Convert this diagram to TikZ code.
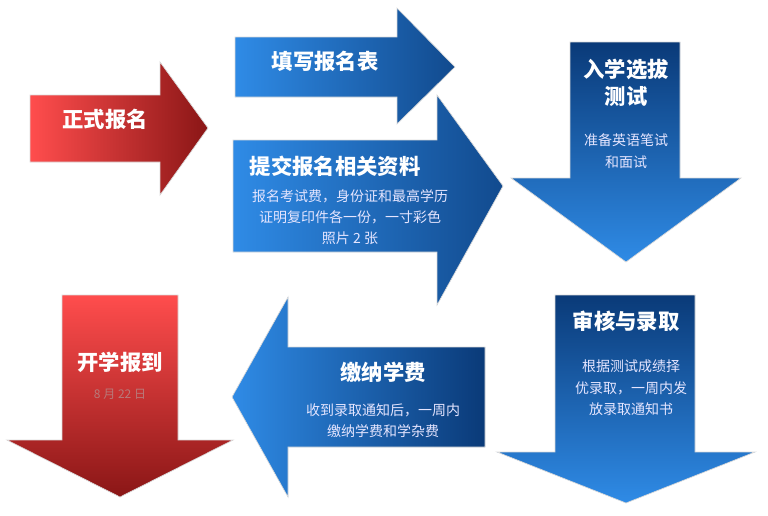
\documentclass[tikz,border=0pt]{standalone}
\usepackage{fontspec}
\setmainfont{Noto Sans CJK SC}
\begin{document}
\begin{tikzpicture}[x=0.75pt,y=-0.75pt,
  ttl/.style={text=white,font=\bfseries\fontsize{16}{20}\selectfont,align=center},
  sml/.style={text=blue!10!white,font=\fontsize{10.5}{16}\selectfont,align=center},
  arr/.style={draw=white!70!gray,line width=0.5pt}]
\useasboundingbox (0,0) rectangle (768,515);
\definecolor{bl}{HTML}{2F8BE6}\definecolor{bd}{HTML}{0A3A78}
\definecolor{rl}{HTML}{FF4D4D}\definecolor{rd}{HTML}{8A1616}
% 1 red right
\path[arr,left color=rl,right color=rd] (30,95)--(160,95)--(160,62)--(208,128)--(160,195)--(160,162)--(30,162)--cycle;
\node[ttl] (a) at (105,119) {正式报名};
% 2
\path[arr,left color=bl,right color=bd!80!bl] (235,37)--(397,37)--(397,8)--(455,67)--(397,124)--(397,97)--(235,97)--cycle;
\node[ttl] (b) at (325,61) {填写报名表};
% 3
\path[arr,left color=bl,right color=bd!80!bl] (233,140)--(437,140)--(437,95)--(503,186)--(437,305)--(437,252)--(233,252)--cycle;
\node[ttl] (c) at (335,166) {提交报名相关资料};
\node[sml] (c2) at (350,217) {报名考试费，身份证和最高学历\\证明复印件各一份，一寸彩色\\照片 2 张};
% 4 down
\path[arr,top color=bd,bottom color=bl] (570,42)--(680,42)--(680,178)--(741,178)--(626,262)--(511,178)--(570,178)--cycle;
\node[ttl] (d) at (626,83) {入学选拔\\测试};
\node[sml] (d2) at (626,151) {准备英语笔试\\和面试};
% 5 down
\path[arr,top color=bd,bottom color=bl] (555,295)--(695,295)--(695,452)--(755,452)--(626,503)--(497,452)--(555,452)--cycle;
\node[ttl] (e) at (626,321) {审核与录取};
\node[sml] (e2) at (631,388) {根据测试成绩择\\优录取，一周内发\\放录取通知书};
% 6 left
\path[arr,left color=bl,right color=bd] (485,347)--(288,347)--(288,297)--(232,397)--(288,497)--(288,447)--(485,447)--cycle;
\node[ttl] (f) at (383,372) {缴纳学费};
\node[sml] (f2) at (383,421) {收到录取通知后，一周内\\缴纳学费和学杂费};
% 7 red down
\path[arr,top color=rl,bottom color=rd] (62,295)--(178,295)--(178,440)--(233,440)--(120,497)--(7,440)--(62,440)--cycle;
\node[ttl] (g) at (120,362) {开学报到};
\node[text=red!30!gray!80!white,font=\fontsize{9}{11}\selectfont] (g2) at (120,394) {8 月 22 日};
\end{tikzpicture}
\end{document}
